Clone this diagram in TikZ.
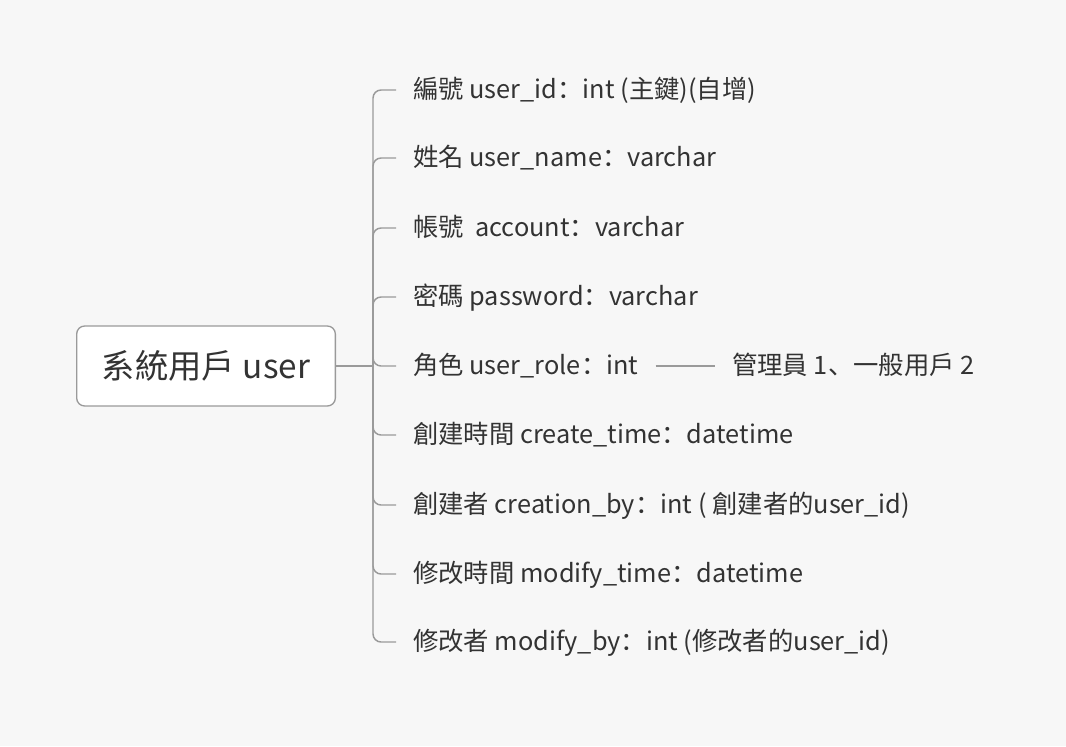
\documentclass[tikz,border=0pt]{standalone}
\usepackage{fontspec}
\setmainfont{Open Sans}
\newfontfamily\cjk{Noto Sans CJK TC}
\newfontfamily\cjkpunct{Noto Sans CJK SC}
\usetikzlibrary{positioning}
\definecolor{linegray}{HTML}{9A9A9A}
\definecolor{textgray}{HTML}{333333}
\definecolor{paper}{HTML}{F7F7F7}
\newcommand{\colonfw}{{\cjkpunct ：}}

\begin{document}
\begin{tikzpicture}[
  x=0.75pt, y=-0.75pt,
  root/.style={draw=linegray, fill=white, rounded corners=6pt, line width=1pt, minimum width=194pt, minimum height=60pt, font=\fontsize{25}{30}\selectfont, text=textgray},
  field/.style={anchor=west, inner xsep=12.75pt, inner ysep=0pt, text height=16pt, text depth=4pt, font=\fontsize{19}{23}\selectfont, text=textgray},
  branch/.style={draw=linegray, line width=1.1pt, rounded corners=6pt}
]
  \fill[paper] (0,0) rectangle (1066,746);
  \useasboundingbox (0,0) rectangle (1066,746);

  \node[root] (user) at (206,366) {\cjk{系統用戶} user};
  \coordinate (fork) at (373,366);

  \node[field] (uid) at (396,90) {\cjk{編號} user\_id\colonfw int (\cjk{主鍵})(\cjk{自增})};
  \node[field] (uname) at (396,158) {\cjk{姓名} user\_name\colonfw varchar};
  \node[field] (account) at (396,228) {\cjk{帳號}\ \ account\colonfw varchar};
  \node[field] (password) at (396,297) {\cjk{密碼} password\colonfw varchar};
  \node[field] (role) at (396,366) {\cjk{角色} user\_role\colonfw int};
  \node[field] (roledesc) at (715,366) {\cjk{管理員} 1{\cjkpunct 、}\cjk{一般用戶} 2};
  \node[field] (ctime) at (396,435) {\cjk{創建時間} create\_time\colonfw datetime};
  \node[field] (cby) at (396,505) {\cjk{創建者} creation\_by\colonfw int ( \cjk{創建者的}user\_id)};
  \node[field] (mtime) at (396,574) {\cjk{修改時間} modify\_time\colonfw datetime};
  \node[field] (mby) at (396,642) {\cjk{修改者} modify\_by\colonfw int (\cjk{修改者的}user\_id)};

  \draw[branch] (user.east) -- (fork);
  \foreach \f in {uid,uname,account,password,role,ctime,cby,mtime,mby}
    \draw[branch] (fork) |- (\f.west);
  \draw[branch] (role.east) -- (roledesc.west);
\end{tikzpicture}
\end{document}
